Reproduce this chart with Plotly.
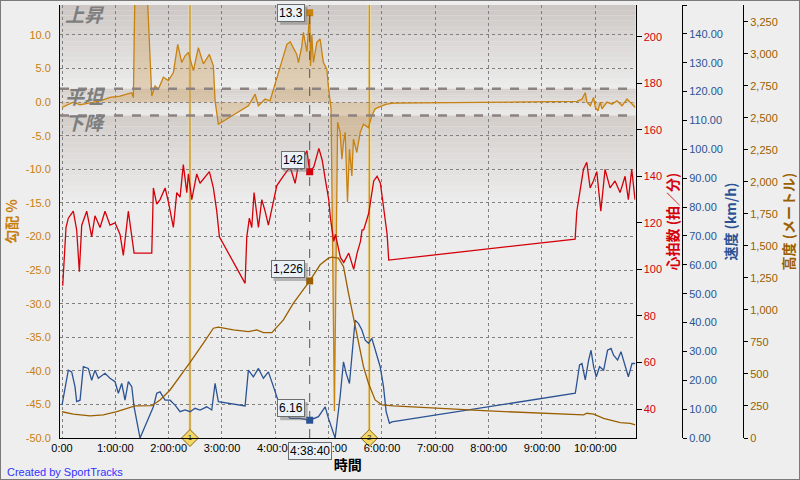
import plotly.graph_objects as go

# --- データ (時間は開始からの分) ---
grade_min = [0, 12.7, 20.3, 42.8, 54.0, 65.3, 72.8, 78.5, 80.3, 82.2, 95.3, 101.0,
             104.7, 108.4, 114.0, 119.7, 125.3, 130.2, 134.7, 138.5, 142.2, 147.8,
             153.4, 159.1, 165.8, 170.3, 172.2, 175.9, 209.7, 217.3, 221.0, 228.5,
             234.1, 237.9, 241.7, 247.3, 251.0, 253.0, 256.7, 260.4, 264.2, 266.0,
             269.8, 271.6, 275.5, 278.7, 279.6, 281.1, 282.9, 286.7, 290.4, 294.1,
             298.0, 299.8, 302.7, 306.5, 310.1, 312.9, 314.9, 316.7, 318.6, 321.2,
             323.4, 326.1, 327.9, 331.7, 335.5, 339.2, 344.8, 348.6, 352.3, 359.9,
             365.5, 372.9, 579.4, 585.0, 588.7, 590.6, 594.4, 598.1, 600.0, 603.0,
             605.6, 607.5, 613.2, 618.8, 624.4, 630.1, 635.7, 641.3, 645.0]
grade_pct = [-0.8, 0.0, -0.4, 0.2, 0.7, 0.9, 1.2, 1.4, 0.7, 18.0, 18.0, 0.9,
             2.4, 1.9, 3.7, 3.2, 4.4, 8.6, 5.9, 6.9, 7.4, 4.7,
             8.1, 5.7, 7.1, 5.4, 0.2, -3.3, -0.55, 1.2, -0.55, 0.45,
             0.2, 1.9, 3.6, 6.2, 7.9, 8.6, 9.0, 8.1, 7.1, 5.9,
             8.3, 10.4, 7.5, 13.3, 5.4, 10.0, 5.9, 8.9, 9.4, 5.9,
             4.9, 2.2, -1.0, -46.0, -3.0, -4.5, -8.5, -6.0, -4.5, -14.9,
             -7.0, -11.0, -5.5, -7.5, -4.5, -3.3, -3.8, -2.0, -1.0, -0.55,
             -0.3, -0.15, 0.1, 0.45, 1.4, 0.0, -0.55, 0.7, -0.8, -1.3,
             0.0, -1.0, 0.0, -0.3, 0.2, -0.55, 0.45, -0.3, -0.8]

hr_min = [0.8, 4.5, 7.1, 12.7, 16.5, 19.5, 22.2, 27.8, 33.4, 37.1, 42.8, 48.4,
          54.0, 59.7, 65.3, 69.0, 74.6, 78.5, 81.1, 101.0, 102.8, 106.6, 110.3,
          116.0, 119.7, 125.3, 129.1, 132.8, 136.5, 140.4, 142.2, 146.0, 151.6,
          155.3, 161.0, 165.8, 170.3, 174.1, 177.1, 206.0, 207.9, 210.8, 213.5,
          216.1, 221.0, 224.8, 228.5, 232.2, 236.1, 241.7, 248.8, 256.7, 262.3,
          266.0, 271.6, 275.5, 278.7, 283.3, 289.0, 292.7, 296.5, 300.1, 302.0,
          305.7, 307.6, 313.3, 317.0, 322.6, 328.2, 332.0, 335.8, 337.6, 339.4,
          345.0, 350.7, 354.5, 358.2, 361.9, 365.8, 367.6, 577.3, 579.2, 582.9,
          586.7, 590.4, 594.2, 597.9, 601.7, 606.2, 611.0, 616.6, 622.2, 627.9,
          633.5, 637.2, 641.0, 644.7]
hr_bpm = [93, 118, 122, 125, 117, 99, 119, 125, 114, 123, 118, 125,
          119, 120, 115, 106, 125, 115, 107, 107, 135, 128, 130,
          135, 129, 118, 133, 131, 145, 133, 141, 130, 141,
          137, 140, 142, 135, 125, 114, 94, 114, 122, 118,
          133, 118, 130, 125, 119, 126, 136, 140, 144, 137,
          145, 148, 151, 142, 144, 152, 147, 138, 130, 122,
          112, 115, 105, 103, 107, 100, 107, 112, 117, 117,
          124, 138, 140, 137, 125, 115, 104, 113, 125, 133,
          143, 146, 135, 138, 142, 125, 143, 135, 138, 133,
          140, 130, 143, 130]

speed_min = [0, 3.4, 7.1, 10.9, 14.6, 16.5, 20.3, 24.0, 29.6, 33.4, 37.1, 40.9,
             48.4, 54.0, 59.7, 63.4, 67.2, 70.9, 74.6, 78.5, 81.1, 87.8, 102.8,
             106.6, 110.3, 116.0, 121.6, 127.2, 132.8, 138.5, 144.1, 149.7, 155.3,
             162.9, 168.5, 172.2, 175.9, 206.0, 209.7, 215.3, 221.0, 226.6, 232.2,
             237.9, 243.5, 245.4, 256.7, 267.9, 278.7, 288.5, 296.1, 299.8, 307.3,
             312.9, 316.7, 319.7, 323.4, 326.1, 329.8, 333.5, 337.4, 341.1, 344.8,
             348.6, 352.3, 358.0, 361.7, 364.7, 368.4, 371.1, 577.5, 579.4, 582.3,
             585.0, 588.7, 592.5, 595.2, 598.1, 601.1, 604.8, 609.4, 613.8, 617.7,
             620.6, 625.1, 628.9, 633.5, 637.2, 641.3, 645.0]
speed_kmh = [11.4, 17.8, 23.5, 22.9, 17.8, 12.6, 13.1, 24.7, 24.1, 20.0, 23.5, 20.7,
             22.4, 20.7, 19.5, 15.5, 18.9, 13.1, 19.5, 17.8, 10.8, 0.0, 10.8,
             15.5, 16.0, 13.1, 13.1, 11.4, 9.1, 9.7, 9.1, 10.3, 9.7,
             10.8, 9.7, 18.9, 12.6, 11.1, 23.5, 21.2, 24.1, 20.7, 22.9,
             17.8, 13.1, 10.8, 6.8, 6.8, 6.16, 7.4, 10.8, 6.8, 0.0,
             14.3, 26.4, 22.4, 18.9, 29.3, 40.8, 39.7, 37.4, 33.9, 32.8,
             34.5, 30.4, 24.7, 17.8, 9.1, 5.1, 5.6, 15.5, 18.9, 25.3,
             25.8, 20.1, 27.0, 30.4, 24.7, 21.2, 24.7, 23.5, 30.4, 31.0,
             28.7, 27.0, 29.9, 24.7, 21.2, 25.8, 25.8]

alt_min = [0, 12.7, 31.5, 46.5, 61.6, 72.8, 82.2, 101.0, 110.3, 121.6, 132.8, 144.1,
           159.1, 170.3, 175.9, 192.8, 209.7, 219.2, 226.6, 236.1, 249.1, 260.4,
           278.7, 290.4, 299.8, 303.6, 311.0, 316.7, 322.3, 327.9, 333.5, 339.2,
           344.8, 352.3, 359.9, 372.9, 474.3, 586.8, 590.6, 598.1, 609.4, 628.1,
           639.4, 645.0]
alt_m = [205, 187, 172, 180, 205, 232, 250, 252, 297, 375, 479, 590,
         740, 857, 865, 844, 830, 844, 823, 823, 922, 1052,
         1226, 1352, 1404, 1412, 1404, 1338, 1130, 948, 740, 557,
         427, 297, 258, 250, 213, 180, 193, 187, 154, 120,
         115, 102]

hour_ticks = list(range(11))
hour_labels = ['0:00'] + [f'{h}:00:00' for h in range(1, 11)]
grade_ticks = [10, 5, 0, -5, -10, -15, -20, -25, -30, -35, -40, -45, -50]

lap_min = [144.0, 345.7]
lap_names = ['1', '2']

cursor_min = 4 * 60 + 38 + 40 / 60
cursor_label = '4:38:40'
cursor_grade = 13.3
cursor_hr = 142
cursor_alt = 1226
cursor_speed = 6.16

C_GRADE = '#c8820f'
C_GRADE_TXT = '#c87f10'
C_HR = '#d4000a'
C_SPEED = '#2b5394'
C_ALT = '#9a5f00'

TICK_FONT = 'Liberation Sans, Arial, sans-serif'
JP_FONT = 'Noto Sans CJK JP, sans-serif'


def hours(mins):
    return [m / 60 for m in mins]


def text_width(s, size=12):
    # ラベル箱の影の幅をざっくり見積もる
    return sum(size * (0.28 if ch in '.,' else 0.56) for ch in s) + 4


fig = go.Figure()

fig.add_trace(go.Scatter(
    x=hours(grade_min), y=grade_pct, mode='lines', name='勾配',
    line=dict(color=C_GRADE, width=1.3), fill='tozeroy',
    fillcolor='rgba(205,160,95,0.38)', yaxis='y'
))
fig.add_trace(go.Scatter(
    x=hours(alt_min), y=alt_m, mode='lines', name='高度',
    line=dict(color=C_ALT, width=1.3), yaxis='y4'
))
fig.add_trace(go.Scatter(
    x=hours(speed_min), y=speed_kmh, mode='lines', name='速度',
    line=dict(color=C_SPEED, width=1.3), yaxis='y3'
))
fig.add_trace(go.Scatter(
    x=hours(hr_min), y=hr_bpm, mode='lines', name='心拍数',
    line=dict(color=C_HR, width=1.3), yaxis='y2'
))

# カーソル位置のマーカー
cx = cursor_min / 60
for val, col, ax in [(cursor_grade, C_GRADE, 'y'), (cursor_hr, C_HR, 'y2'),
                     (cursor_speed, C_SPEED, 'y3'), (cursor_alt, C_ALT, 'y4')]:
    fig.add_trace(go.Scatter(
        x=[cx], y=[val], mode='markers', yaxis=ax, hoverinfo='skip',
        marker=dict(symbol='square', size=7, color=col)
    ))

# ラップマーカー
fig.add_trace(go.Scatter(
    x=hours(lap_min), y=[-50] * len(lap_min), mode='markers+text', yaxis='y',
    text=lap_names, textposition='middle center',
    textfont=dict(size=8, color='#222', family=TICK_FONT),
    marker=dict(symbol='diamond', size=13, color='#f4d766',
                line=dict(color='#8b6914', width=1)),
    cliponaxis=False, hoverinfo='skip'
))

# 背景のゾーン (上昇 / 平坦 / 下降) をグラデーション風に
shapes = []
zones = [(14.46, 2.0, (205, 200, 197), (236, 236, 236)),
         (2.0, -2.0, (214, 208, 204), (234, 234, 234)),
         (-2.0, -15.0, (211, 206, 202), (236, 236, 236))]
n = 16
for top, bot, c0, c1 in zones:
    step = (top - bot) / n
    for i in range(n):
        f = i / (n - 1)
        col = 'rgb(%d,%d,%d)' % tuple(round(a + (b - a) * f) for a, b in zip(c0, c1))
        shapes.append(dict(type='rect', xref='x domain', yref='y', x0=0, x1=1,
                           y0=top - step * (i + 1), y1=top - step * i,
                           fillcolor=col, line=dict(width=0), layer='below'))

for lm in lap_min:
    shapes.append(dict(type='line', xref='x', yref='y domain', x0=lm / 60, x1=lm / 60,
                       y0=0, y1=1, line=dict(color='#f3dd9c', width=3), layer='below'))
    shapes.append(dict(type='line', xref='x', yref='y domain', x0=lm / 60, x1=lm / 60,
                       y0=0, y1=1, line=dict(color='#b98a2e', width=1.2), layer='below'))

for yv in (2.0, -2.0):
    shapes.append(dict(type='line', xref='x domain', yref='y', x0=0, x1=1, y0=yv, y1=yv,
                       line=dict(color='#8c8280', width=2.5, dash='dash'), layer='above'))

shapes.append(dict(type='line', xref='x', yref='y domain', x0=cx, x1=cx, y0=0, y1=1,
                   line=dict(color='#555555', width=1, dash='dash'), layer='above'))

# 外枠
PW, PH = 735, 433
shapes.append(dict(type='rect', xref='paper', yref='paper',
                   x0=-60 / PW, x1=1 + 5 / PW, y0=-42 / PH, y1=1 + 5 / PH,
                   line=dict(color='#7a7a7a', width=2), layer='above'))

annotations = []
for txt, yv in [('上昇', 13.2), ('平坦', 1.0), ('下降', -2.9)]:
    annotations.append(dict(text=txt, xref='x domain', yref='y', x=0.005, y=yv,
                            xanchor='left', yanchor='middle', showarrow=False,
                            font=dict(family=JP_FONT, size=19, color='#7e7e7e',
                                      weight='bold', style='italic')))

box_font = dict(family=TICK_FONT, size=12, color='#000')
for val, ax, txt, ysh in [(cursor_grade, 'y', f'{cursor_grade:.1f}', 0),
                          (cursor_hr, 'y2', f'{cursor_hr}', 12),
                          (cursor_alt, 'y4', f'{cursor_alt:,}', 12),
                          (cursor_speed, 'y3', f'{cursor_speed:.2f}', 12)]:
    w = text_width(txt)
    # 影 (ピクセル単位の矩形)
    shapes.append(dict(type='rect', xref='x', yref=ax, xsizemode='pixel',
                       ysizemode='pixel', xanchor=cx, yanchor=val,
                       x0=-5 - w + 3, x1=-5 + 3, y0=ysh - 9 - 3, y1=ysh + 9 - 3,
                       fillcolor='rgba(110,110,110,0.45)', line=dict(width=0),
                       layer='above'))
    annotations.append(dict(text=txt, x=cx, y=val, xref='x', yref=ax, showarrow=False,
                            xanchor='right', yanchor='middle', xshift=-5, yshift=ysh,
                            bgcolor='#eaf2f8', bordercolor='#6e6e6e', borderwidth=1,
                            borderpad=1, font=box_font))
annotations.append(dict(text=cursor_label, x=cx, y=0, xref='x', yref='y domain',
                        showarrow=False, xanchor='center', yanchor='top', yshift=-4,
                        bgcolor='#eaf2f8', bordercolor='#6e6e6e', borderwidth=1,
                        borderpad=1, font=box_font))
annotations.append(dict(text='Created by SportTracks', xref='paper', yref='paper',
                        x=-55 / PW, y=-34 / PH, xanchor='left', yanchor='middle',
                        showarrow=False,
                        font=dict(family=TICK_FONT, size=11, color='#3333ff')))

title_font = lambda c: dict(family=JP_FONT, size=14, color=c, weight='bold')
grid = dict(showgrid=True, gridcolor='#808080', griddash='dot', gridwidth=1)

fig.update_layout(
    width=800, height=480,
    margin=dict(l=60, r=5, t=5, b=42),
    paper_bgcolor='#eeeeee', plot_bgcolor='#ececec',
    showlegend=False,
    shapes=shapes, annotations=annotations,
    xaxis=dict(domain=[0, 0.783], range=[-0.0375, 10.754],
               tickvals=hour_ticks, ticktext=hour_labels,
               tickfont=dict(family=TICK_FONT, size=11, color='#000'),
               showline=True, linecolor='#000', linewidth=1, zeroline=False,
               title=dict(text='時間', font=title_font('#000'), standoff=4),
               **grid),
    yaxis=dict(range=[-50, 14.46], tickvals=grade_ticks,
               ticktext=[f'{v:.1f}' for v in grade_ticks],
               tickfont=dict(family=TICK_FONT, size=11, color=C_GRADE_TXT),
               ticklabelstandoff=6,
               showline=True, linecolor='#000', linewidth=1, zeroline=False,
               title=dict(text='勾配 %', font=title_font(C_GRADE_TXT), standoff=4),
               **grid),
    yaxis2=dict(overlaying='y', side='right', anchor='x', range=[27.55, 213.6],
                tick0=0, dtick=20, showgrid=False, zeroline=False,
                showline=True, linecolor='#000', linewidth=1,
                ticks='outside', ticklen=5, tickcolor='#000',
                tickfont=dict(family=TICK_FONT, size=11, color=C_HR),
                title=dict(text='心拍数 (拍／分)', font=title_font(C_HR), standoff=3)),
    yaxis3=dict(overlaying='y', side='right', anchor='free', position=0.8463,
                range=[0, 150], tick0=0, dtick=10, tickformat='.2f',
                showgrid=False, zeroline=False,
                showline=True, linecolor='#000', linewidth=1,
                ticks='outside', ticklen=4, tickcolor='#000',
                tickfont=dict(family=TICK_FONT, size=11, color=C_SPEED),
                title=dict(text='速度 (km/h)', font=title_font(C_SPEED), standoff=4)),
    yaxis4=dict(overlaying='y', side='right', anchor='free', position=0.9293,
                range=[0, 3380], tick0=0, dtick=250, tickformat=',d',
                showgrid=False, zeroline=False,
                showline=True, linecolor='#000', linewidth=1,
                ticks='outside', ticklen=4, tickcolor='#000',
                tickfont=dict(family=TICK_FONT, size=11, color=C_ALT),
                title=dict(text='高度 (メートル)', font=title_font(C_ALT), standoff=4)),
)

# ページ余白をなくして 800x480 にぴったり合わせる
fig.write_html("out.html", config={'displayModeBar': False},
               post_script="document.body.style.margin='0';")
